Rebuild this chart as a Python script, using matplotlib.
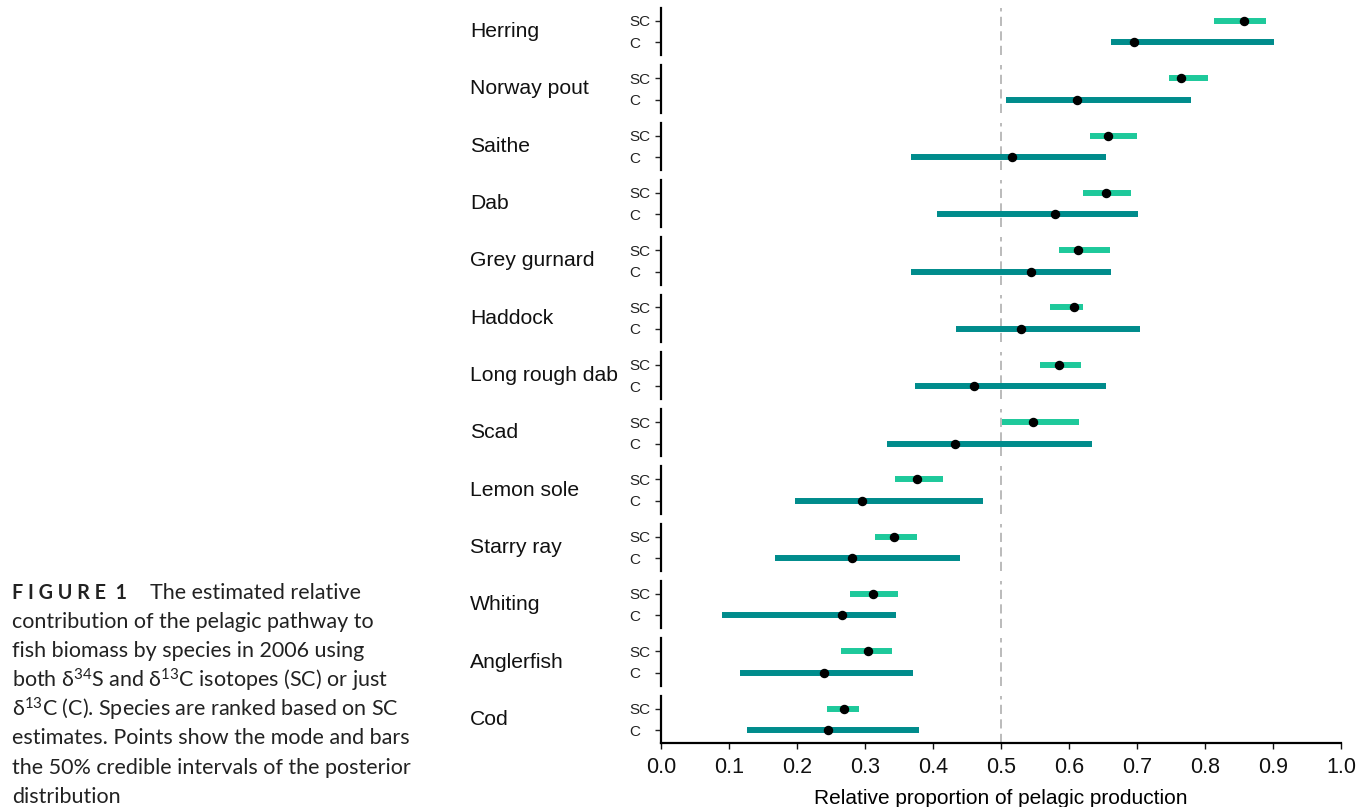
import matplotlib
matplotlib.use("Agg")
import matplotlib.pyplot as plt
from matplotlib.transforms import blended_transform_factory

# species ranked on SC estimates (top to bottom)
species = ["Herring", "Norway pout", "Saithe", "Dab", "Grey gurnard", "Haddock",
           "Long rough dab", "Scad", "Lemon sole", "Starry ray", "Whiting",
           "Anglerfish", "Cod"]

# SC: both d34S and d13C
sc_low = [0.813, 0.747, 0.631, 0.621, 0.586, 0.572, 0.557, 0.502, 0.344, 0.315, 0.278, 0.265, 0.244]
sc_high = [0.890, 0.805, 0.700, 0.691, 0.661, 0.621, 0.618, 0.614, 0.415, 0.377, 0.348, 0.340, 0.291]
sc_mode = [0.858, 0.764, 0.657, 0.654, 0.613, 0.607, 0.585, 0.547, 0.377, 0.343, 0.312, 0.304, 0.269]

# C: d13C only
c_low = [0.662, 0.508, 0.367, 0.406, 0.367, 0.434, 0.374, 0.332, 0.197, 0.167, 0.090, 0.116, 0.126]
c_high = [0.901, 0.779, 0.654, 0.701, 0.662, 0.705, 0.654, 0.634, 0.473, 0.440, 0.346, 0.371, 0.380]
c_mode = [0.696, 0.612, 0.516, 0.579, 0.544, 0.530, 0.461, 0.433, 0.295, 0.281, 0.266, 0.239, 0.245]

x_ticks = [0.0, 0.1, 0.2, 0.3, 0.4, 0.5, 0.6, 0.7, 0.8, 0.9, 1.0]

sc_col = "#1ec99b"
c_col = "#008c8c"

W, H = 1371, 807
fig = plt.figure(figsize=(W / 100, H / 100), dpi=100)
plt.rcParams['font.family'] = ['Liberation Sans', 'DejaVu Sans']

gs = fig.add_gridspec(len(species), 1, left=661 / W, right=1341 / W,
                      top=1 - 8 / H, bottom=1 - 743 / H, hspace=0.209)

for i, name in enumerate(species):
    ax = fig.add_subplot(gs[i, 0])
    ax.hlines([2], sc_low[i], sc_high[i], color=sc_col, lw=4.3, capstyle='butt', zorder=2)
    ax.hlines([1], c_low[i], c_high[i], color=c_col, lw=4.3, capstyle='butt', zorder=2)
    ax.plot([sc_mode[i], c_mode[i]], [2, 1], 'o', color='black', ms=5.8, zorder=3)
    ax.axvline(0.5, color='#a8a8a8', lw=1.1, ls=(0, (6, 3.5)), zorder=1)

    ax.set_xlim(0, 1)
    ax.set_ylim(0.4, 2.6)
    ax.set_yticks([2, 1])
    ax.set_yticklabels(["SC", "C"])
    for s in ["top", "right"]:
        ax.spines[s].set_visible(False)
    ax.spines["left"].set_linewidth(1.6)
    ax.tick_params(axis='y', length=4, width=1, pad=2, labelsize=11, colors='#222222')
    for lab in ax.get_yticklabels():
        lab.set_horizontalalignment('left')
        lab.set_x(-0.0345)

    if i < len(species) - 1:
        ax.spines["bottom"].set_visible(False)
        ax.set_xticks([])
    else:
        ax.spines["bottom"].set_linewidth(1.6)
        ax.set_xticks(x_ticks)
        ax.set_xticklabels([f"{t:.1f}" for t in x_ticks])
        ax.tick_params(axis='x', length=4, width=1, pad=6, labelsize=15.5, colors='#111111')
        ax.set_xlabel("Relative proportion of pelagic production", fontsize=15, labelpad=8)

    tr = blended_transform_factory(fig.transFigure, ax.transAxes)
    ax.text(470 / W, 0.5, name, transform=tr, ha='left', va='center', fontsize=15.2, color='#111111')

# caption
plt.rcParams['mathtext.default'] = 'regular'
cap_font = ['Lato', 'DejaVu Sans']
fig.text(12 / W, 1 - 593 / H, "F I G U R E  1", family=cap_font, weight='bold',
         fontsize=14.2, color='#222222', va='center')
lines = [
    (150, "The estimated relative"),
    (12, "contribution of the pelagic pathway to"),
    (12, "fish biomass by species in 2006 using"),
    (12, "both δ$^{34}$S and δ$^{13}$C isotopes (SC) or just"),
    (12, "δ$^{13}$C (C). Species are ranked based on SC"),
    (12, "estimates. Points show the mode and bars"),
    (12, "the 50% credible intervals of the posterior"),
    (12, "distribution"),
]
for k, (x0, txt) in enumerate(lines):
    fig.text(x0 / W, 1 - (593 + k * 29.1) / H, txt, family=cap_font,
             fontsize=15.5, color='#222222', va='center')

fig.savefig("out.png", dpi=100)
